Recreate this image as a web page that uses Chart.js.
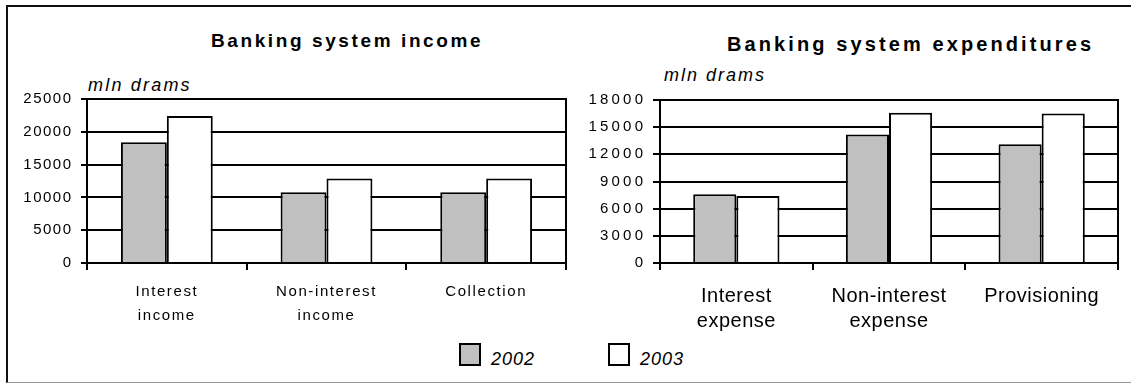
<!DOCTYPE html>
<html>
<head>
<meta charset="utf-8">
<script src="https://cdn.jsdelivr.net/npm/chart.js@4.4.1/dist/chart.umd.min.js"></script>
<style>
  body { margin: 0; background: #fff; font-family: "Liberation Sans", Arial, sans-serif; }
  #wrap { position: relative; width: 1131px; height: 384px; overflow: hidden; }
  #frame { position: absolute; left: 6px; top: 5px; width: 1130px; height: 375px;
           border-top: 2px solid #111; border-left: 2px solid #111;
           border-bottom: 1px solid #999; }
  .txt { position: absolute; white-space: nowrap; line-height: 1; }
  .title { font-weight: bold; }
  .unit { font-style: italic; font-size: 18px; }
  canvas { position: absolute; top: 0; }
  #legend { position: absolute; top: 343px; left: 0; width: 1131px; height: 24px; }
  .item { position: absolute; top: 0; height: 24px; }
  .box { position: absolute; left: 0; top: 0; width: 18px; height: 19px; border: 2px solid #000; }
  .lab { position: absolute; left: 32px; top: 7px; font-style: italic; font-size: 18px; line-height: 1; letter-spacing: 1px; }
</style>
</head>
<body>
<div id="wrap">
  <div id="frame"></div>
  <div class="txt title" style="left:211px; top:31px; font-size:19px; letter-spacing:2.6px;">Banking system income</div>
  <div class="txt title" style="left:727px; top:34px; font-size:20px; letter-spacing:3.1px;">Banking system expenditures</div>
  <div class="txt unit" style="left:88px; top:76px; letter-spacing:2.2px;">mln drams</div>
  <div class="txt unit" style="left:664px; top:66px; letter-spacing:2px;">mln drams</div>
  <canvas id="incomeChart" width="580" height="340" style="left:0px;"></canvas>
  <canvas id="expenseChart" width="551" height="340" style="left:580px;"></canvas>
  <div id="legend"></div>
</div>
<script>
// income chart (left)
const incomeCategories = [['Interest', 'income'], ['Non-interest', 'income'], ['Collection']];
const income2002 = [18400, 10800, 10800];
const income2003 = [22400, 12900, 12900];
const incomeMax = 25000;
const incomeStep = 5000;

// expenditure chart (right)
const expenseCategories = [['Interest', 'expense'], ['Non-interest', 'expense'], ['Provisioning']];
const expense2002 = [7600, 14200, 13100];
const expense2003 = [7400, 16600, 16500];
const expenseMax = 18000;
const expenseStep = 3000;

const seriesNames = ['2002', '2003'];
const seriesColors = ['#c0c0c0', '#ffffff'];

const FONT = '"Liberation Sans", Arial, sans-serif';

// per-axis letter spacing for tick labels + right edge of the plot frame
const framePlugin = {
    id: 'frame',
    beforeDraw: function (chart, args, opts) {
        ['x', 'y'].forEach(function (id) {
            var s = chart.scales[id];
            if (!s || s._spaced) return;
            var orig = s.drawLabels;
            s.drawLabels = function (area) {
                this.ctx.save();
                this.ctx.letterSpacing = (opts[id] || 0) + 'px';
                orig.call(this, area);
                this.ctx.restore();
            };
            s._spaced = true;
        });
    },
    beforeDatasetsDraw: function (chart) {
        var a = chart.chartArea, ctx = chart.ctx;
        ctx.save();
        ctx.strokeStyle = '#000';
        ctx.lineWidth = 2;
        ctx.beginPath();
        ctx.moveTo(a.right, a.top - 1);
        ctx.lineTo(a.right, a.bottom + 7);
        ctx.stroke();
        ctx.restore();
    }
};

function makeChart(id, labels, d1, d2, max, step, cfg) {
    return new Chart(document.getElementById(id).getContext('2d'), {
        type: 'bar',
        data: {
            labels: labels,
            datasets: [d1, d2].map(function (d, i) {
                return {
                    label: seriesNames[i],
                    data: d,
                    backgroundColor: seriesColors[i],
                    borderColor: '#000',
                    borderWidth: 2,
                    borderSkipped: 'start',
                    categoryPercentage: cfg.catPct,
                    barPercentage: 1.0
                };
            })
        },
        options: {
            responsive: false,
            animation: false,
            events: [],
            layout: { padding: { top: cfg.top, right: cfg.right, left: 0, bottom: 0 } },
            plugins: {
                legend: { display: false },
                tooltip: { enabled: false },
                frame: { x: cfg.xSpacing, y: cfg.ySpacing }
            },
            scales: {
                y: {
                    min: 0,
                    max: max,
                    ticks: { stepSize: step, color: '#000', padding: cfg.yPad,
                             font: { family: FONT, size: cfg.ySize },
                             callback: function (v) { return String(v); } },
                    grid: { color: '#000', lineWidth: 2, tickLength: cfg.yTick },
                    border: { color: '#000', width: 2 },
                    afterFit: function (s) { s.width = cfg.yWidth; }
                },
                x: {
                    ticks: { color: '#000', padding: cfg.xPad, maxRotation: 0, autoSkip: false,
                             font: { family: FONT, size: cfg.xSize, lineHeight: cfg.xLine } },
                    grid: { color: '#000', lineWidth: 2, tickLength: 7, drawOnChartArea: false, offset: true },
                    border: { color: '#000', width: 2 },
                    afterFit: function (s) { s.height = 340 - 263; }
                }
            }
        },
        plugins: [framePlugin]
    });
}

var incomeChart = makeChart('incomeChart', incomeCategories, income2002, income2003, incomeMax, incomeStep, {
    catPct: 0.575, top: 99, right: 14, yWidth: 87, yPad: 8.5, ySize: 15, yTick: 6, ySpacing: 1.5,
    xPad: 10.5, xSize: 15, xLine: 1.55, xSpacing: 1.6
});

var expenseChart = makeChart('expenseChart', expenseCategories, expense2002, expense2003, expenseMax, expenseStep, {
    catPct: 0.565, top: 100, right: 13, yWidth: 80, yPad: 6.8, ySize: 15, yTick: 7, ySpacing: 3.2,
    xPad: 14.5, xSize: 20, xLine: 1.22, xSpacing: 0.5
});

// shared legend
var legendX = [459, 608];
var legend = document.getElementById('legend');
incomeChart.data.datasets.forEach(function (ds, i) {
    var item = document.createElement('div');
    item.className = 'item';
    item.style.left = legendX[i] + 'px';
    item.innerHTML = '<div class="box" style="background:' + ds.backgroundColor + '"></div>' +
                     '<div class="lab">' + ds.label + '</div>';
    legend.appendChild(item);
});
</script>
</body>
</html>
